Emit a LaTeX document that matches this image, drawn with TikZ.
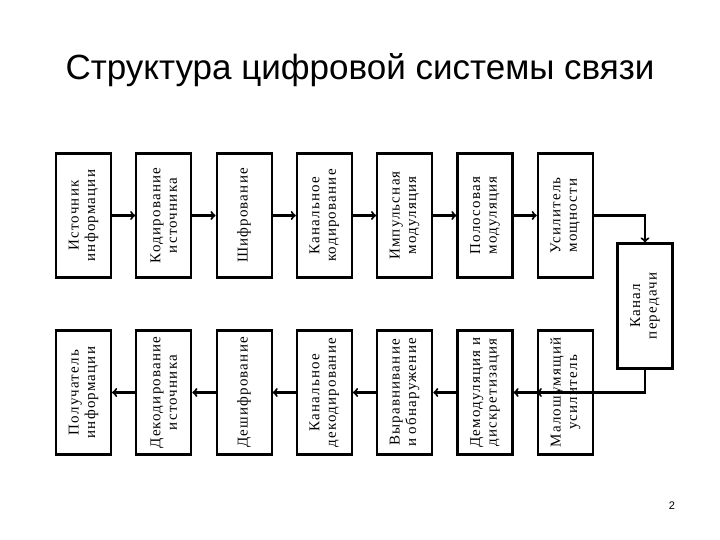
\documentclass[tikz,border=0pt]{standalone}
\usepackage{fontspec}
\setmainfont{Liberation Serif}
\newfontfamily\titlefont{Liberation Sans}
\newfontfamily\boxfont[LetterSpace=8]{Liberation Serif}
\usetikzlibrary{arrows,positioning,calc}
\tikzset{
  blk/.style={draw,line width=2.1pt,rotate=90,minimum width=124pt,minimum height=55pt,
    align=center,font=\boxfont\fontsize{15}{16.5}\selectfont,inner sep=1pt},
  link/.style={line width=2.1pt,-to},
}
\begin{document}
\begin{tikzpicture}[x=1pt,y=-1pt]
\useasboundingbox (0,0) rectangle (720,540);
\node[font=\titlefont\fontsize{35}{37}\selectfont] at (360,70) {Структура цифровой системы связи};
\node[font=\titlefont\fontsize{11}{12}\selectfont] at (672,506) {2};
\node[blk] (src) at (83.5,215.5) {Источник\\информации};
\node[blk] (scod) at (163.8,215.5) {Кодирование\\источника};
\node[blk] (enc) at (244.1,215.5) {Шифрование};
\node[blk] (ccod) at (324.4,215.5) {Канальное\\кодирование};
\node[blk] (pmod) at (404.7,215.5) {Импульсная\\модуляция};
\node[blk] (bmod) at (485.0,215.5) {Полосовая\\модуляция};
\node[blk] (amp) at (565.3,215.5) {Усилитель\\мощности};
\node[blk,minimum width=125pt] (chan) at (645,306) {Канал\\передачи};
\node[blk] (lna) at (565.3,392.5) {Малошумящий\\усилитель};
\node[blk] (demod) at (485.0,392.5) {Демодуляция и\\дискретизация};
\node[blk] (equ) at (404.7,392.5) {Выравнивание\\и обнаружение};
\node[blk] (cdec) at (324.4,392.5) {Канальное\\декодирование};
\node[blk] (dec) at (244.1,392.5) {Дешифрование};
\node[blk] (sdec) at (163.8,392.5) {Декодирование\\источника};
\node[blk] (dst) at (83.5,392.5) {Получатель\\информации};
\draw[link] (src) -- (scod);
\draw[link] (scod) -- (enc);
\draw[link] (enc) -- (ccod);
\draw[link] (ccod) -- (pmod);
\draw[link] (pmod) -- (bmod);
\draw[link] (bmod) -- (amp);
\draw[link] (amp.south) -| (chan.east);
\draw[link] (chan.west) |- (lna.north);
\draw[link] (lna) -- (demod);
\draw[link] (demod) -- (equ);
\draw[link] (equ) -- (cdec);
\draw[link] (cdec) -- (dec);
\draw[link] (dec) -- (sdec);
\draw[link] (sdec) -- (dst);
\end{tikzpicture}
\end{document}
